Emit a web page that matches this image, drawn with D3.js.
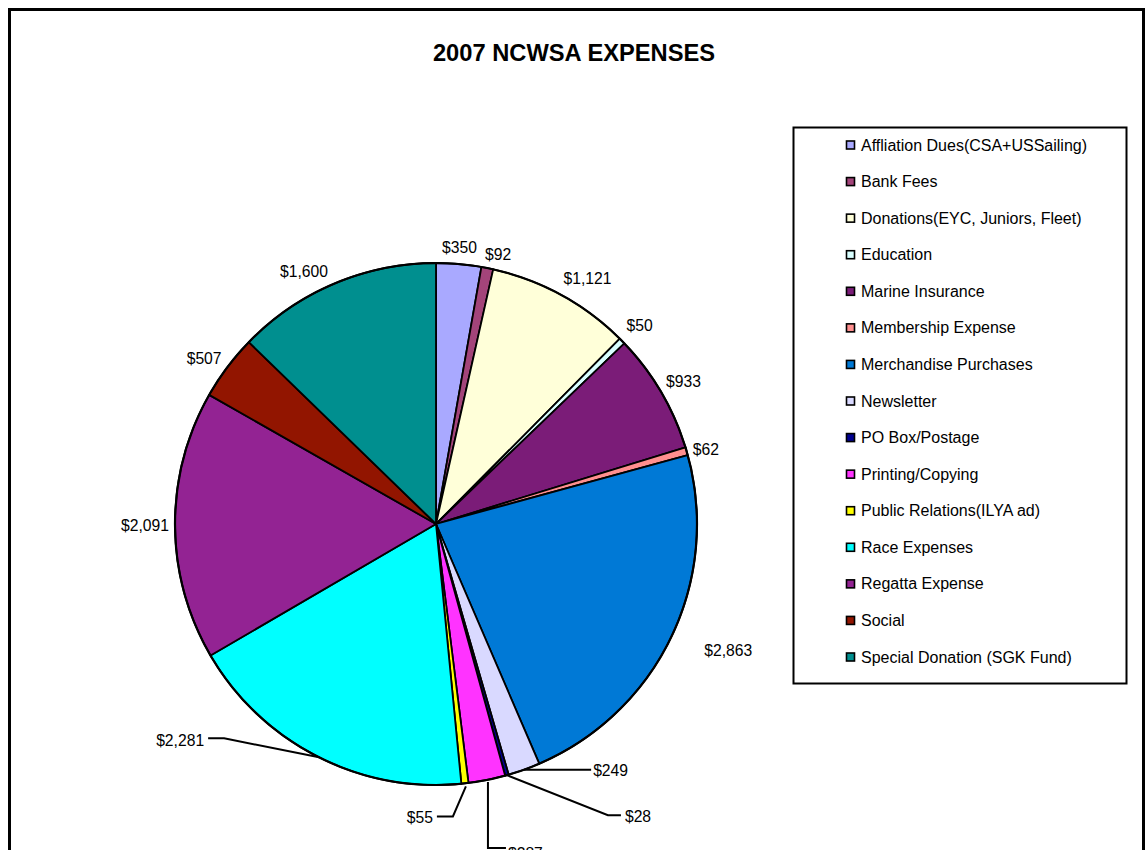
<!DOCTYPE html>
<html>
<head>
<meta charset="utf-8">
<script src="https://cdn.jsdelivr.net/npm/d3@7"></script>
<style>
body { margin: 0; background: #fff; }
text { font-family: "Liberation Sans", Arial, sans-serif; fill: #000; }
</style>
</head>
<body>
<svg id="chart" width="1146" height="850"></svg>
<script>
var title = "2007 NCWSA EXPENSES";
var categories = ["Affliation Dues(CSA+USSailing)", "Bank Fees", "Donations(EYC, Juniors, Fleet)", "Education",
    "Marine Insurance", "Membership Expense", "Merchandise Purchases", "Newsletter", "PO Box/Postage",
    "Printing/Copying", "Public Relations(ILYA ad)", "Race Expenses", "Regatta Expense", "Social",
    "Special Donation (SGK Fund)"];
var amounts = [350, 92, 1121, 50, 933, 62, 2863, 249, 28, 287, 55, 2281, 2091, 507, 1600];
var colors = ["#a9a9ff", "#a3447a", "#ffffd9", "#d9ffff", "#7b1c78", "#ff8f8f", "#0079d6", "#d9d9ff",
    "#000090", "#ff33ff", "#ffff00", "#00ffff", "#932393", "#921500", "#008f8f"];

var cx = 436, cy = 524, radius = 261;

// nudges for labels that sit straight out from the slice
var labelNudge = {
    0: [-1, 2], 1: [7, 5], 2: [17, 0], 3: [4, -2], 4: [6, -1], 5: [1, 4],
    6: [40, 5], 12: [-11, 0], 13: [-8, 3], 14: [-23, 5]
};
// leader lines for the small bottom slices: points relative to the rim, then text spot
var leaders = {
    7: { pts: [[0, 0], [67, 0]], text: [69, 1], anchor: "start" },
    8: { pts: [[0, 0], [101, 40], [114, 40]], text: [118, 41], anchor: "start" },
    9: { pts: [[1, 2], [1, 68], [19, 68]], text: [21, 74], anchor: "start" },
    10: { pts: [[1, 3], [-12, 33], [-28, 33]], text: [-32, 34], anchor: "end" },
    11: { pts: [[2, 1], [-93, -18], [-109, -18]], text: [-113, -16], anchor: "end" }
};

var svg = d3.select("#chart");

svg.append("rect")
    .attr("x", 9.5).attr("y", 9.5)
    .attr("width", 1134).attr("height", 860)
    .attr("fill", "#fff").attr("stroke", "#000").attr("stroke-width", 3);

svg.append("text")
    .attr("x", 574).attr("y", 61)
    .attr("text-anchor", "middle")
    .style("font-size", "23.7px").style("font-weight", "bold")
    .text(title);

var pie = d3.pie().sort(null).value(function (d) { return d; });
var arcs = pie(amounts);
var arc = d3.arc().innerRadius(0).outerRadius(radius);
var fmt = d3.format("$,");

var g = svg.append("g").attr("transform", "translate(" + cx + "," + cy + ")");

g.selectAll("path.slice")
    .data(arcs)
    .enter().append("path")
    .attr("class", "slice")
    .attr("d", arc)
    .attr("fill", function (d, i) { return colors[i]; })
    .attr("stroke", "#000")
    .attr("stroke-width", 1.8)
    .attr("stroke-linejoin", "round");

g.append("circle")
    .attr("r", radius)
    .attr("fill", "none")
    .attr("stroke", "#000")
    .attr("stroke-width", 2.2);

arcs.forEach(function (d, i) {
    var mid = (d.startAngle + d.endAngle) / 2;
    var sx = Math.sin(mid), sy = -Math.cos(mid);
    if (leaders[i]) {
        var rimX = radius * sx, rimY = radius * sy;
        var L = leaders[i];
        var line = d3.line();
        g.append("path")
            .attr("d", line(L.pts.map(function (p) { return [rimX + p[0], rimY + p[1]]; })))
            .attr("fill", "none")
            .attr("stroke", "#000")
            .attr("stroke-width", 2);
        g.append("text")
            .attr("x", rimX + L.text[0])
            .attr("y", rimY + L.text[1])
            .attr("text-anchor", L.anchor)
            .attr("dominant-baseline", "central")
            .style("font-size", "15.7px")
            .text(fmt(d.data));
    } else {
        var n = labelNudge[i] || [0, 0];
        g.append("text")
            .attr("x", 280 * sx + n[0])
            .attr("y", 280 * sy + n[1])
            .attr("text-anchor", "middle")
            .attr("dominant-baseline", "central")
            .style("font-size", "15.7px")
            .text(fmt(d.data));
    }
});

// legend
var legend = svg.append("g");
legend.append("rect")
    .attr("x", 793.5).attr("y", 127.5)
    .attr("width", 333).attr("height", 556)
    .attr("fill", "#fff").attr("stroke", "#000").attr("stroke-width", 2);

var ly = d3.scalePoint().domain(categories).range([145, 657]);

var items = legend.selectAll("g.item")
    .data(categories)
    .enter().append("g")
    .attr("class", "item")
    .attr("transform", function (d) { return "translate(0," + ly(d) + ")"; });

items.append("rect")
    .attr("x", 846.5).attr("y", -4)
    .attr("width", 8).attr("height", 8)
    .attr("fill", function (d, i) { return colors[i]; })
    .attr("stroke", "#000").attr("stroke-width", 1.6);

items.append("text")
    .attr("x", 861).attr("y", 0)
    .attr("dominant-baseline", "central")
    .style("font-size", "16px")
    .text(function (d) { return d; });
</script>
</body>
</html>
